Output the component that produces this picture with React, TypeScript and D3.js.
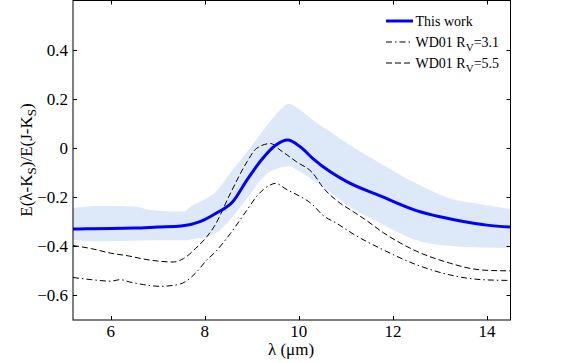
import React, { useEffect, useRef } from "react";
import * as d3 from "d3";

// wavelength grid + values
const workLam = [5.2, 5.5, 6, 6.5, 7, 7.5, 7.9, 8.25, 8.6, 8.9, 9.2, 9.5, 9.76, 10.03, 10.3, 10.67, 11.02, 11.73, 12.5, 13, 13.5, 14, 14.5];
const workVal = [-0.33, -0.329, -0.328, -0.326, -0.322, -0.318, -0.3, -0.265, -0.218, -0.13, -0.05, 0.01, 0.032, 0.005, -0.043, -0.097, -0.137, -0.195, -0.255, -0.28, -0.299, -0.314, -0.322];

const bandLam = [5.2, 5.8, 6.5, 6.84, 7.55, 7.7, 8.04, 8.25, 8.55, 8.9, 9.25, 9.6, 9.78, 10.03, 10.3, 10.67, 11.02, 11.73, 12.45, 13.2, 13.9, 14.5];
const bandUpper = [-0.244, -0.235, -0.238, -0.252, -0.259, -0.239, -0.205, -0.175, -0.1, -0.015, 0.073, 0.154, 0.18, 0.154, 0.113, 0.066, 0.019, -0.062, -0.14, -0.205, -0.23, -0.249];
const bandLower = [-0.374, -0.38, -0.378, -0.376, -0.376, -0.372, -0.36, -0.345, -0.29, -0.205, -0.117, -0.08, -0.074, -0.097, -0.13, -0.18, -0.232, -0.305, -0.372, -0.398, -0.405, -0.407];

const rv55Lam = [5.2, 5.6, 6.0, 6.4, 6.7, 7.0, 7.33, 7.55, 7.8, 8.05, 8.2, 8.55, 8.9, 9.1, 9.4, 9.6, 9.95, 10.3, 10.5, 10.88, 11.1, 11.4, 11.8, 12.5, 13.2, 13.7, 14.0, 14.5];
const rv55Val = [-0.397, -0.41, -0.428, -0.44, -0.452, -0.46, -0.464, -0.45, -0.41, -0.36, -0.32, -0.183, -0.056, -0.002, 0.018, -0.008, -0.056, -0.103, -0.157, -0.225, -0.252, -0.29, -0.345, -0.42, -0.468, -0.492, -0.498, -0.5];

const rv31Lam = [5.2, 5.6, 6.0, 6.2, 6.4, 6.7, 7.05, 7.4, 7.6, 7.8, 8.05, 8.2, 8.55, 8.9, 9.1, 9.4, 9.5, 9.75, 9.96, 10.3, 10.5, 10.8, 11.2, 11.8, 12.5, 13.2, 13.9, 14.5];
const rv31Val = [-0.527, -0.536, -0.542, -0.536, -0.545, -0.556, -0.563, -0.557, -0.543, -0.51, -0.455, -0.428, -0.347, -0.252, -0.198, -0.15, -0.144, -0.17, -0.19, -0.232, -0.272, -0.306, -0.355, -0.415, -0.475, -0.516, -0.536, -0.539];

const xTicks = [6, 8, 10, 12, 14];
const yTicks = [-0.6, -0.4, -0.2, 0, 0.2, 0.4];

export default function App() {
  const ref = useRef<SVGSVGElement | null>(null);

  useEffect(() => {
    const W = 564, H = 363;
    const left = 73, right = 510.5, top = 0.5, bottom = 320;
    const font = "Liberation Serif, Times New Roman, Times, serif";

    const svg = d3.select(ref.current);
    svg.selectAll("*").remove();
    svg.attr("width", W).attr("height", H).attr("font-family", font);

    const x = d3.scaleLinear().domain([5.2, 14.5]).range([left, right]);
    const y = d3.scaleLinear().domain([-0.7, 0.6]).range([bottom, top]);

    const clip = svg.append("clipPath").attr("id", "plotclip");
    clip.append("rect").attr("x", left).attr("y", top).attr("width", right - left).attr("height", bottom - top);
    const g = svg.append("g").attr("clip-path", "url(#plotclip)");

    // shaded uncertainty band
    const band = bandLam.map((l, i) => ({ l, hi: bandUpper[i], lo: bandLower[i] }));
    g.append("path")
      .datum(band)
      .attr("fill", "#dde9f8")
      .attr("d", d3.area<any>().x(d => x(d.l)).y0(d => y(d.lo)).y1(d => y(d.hi)).curve(d3.curveMonotoneX));

    const line = d3.line<[number, number]>().x(d => x(d[0])).y(d => y(d[1])).curve(d3.curveMonotoneX);
    const pairs = (a: number[], b: number[]) => a.map((v, i) => [v, b[i]] as [number, number]);

    g.append("path").datum(pairs(rv31Lam, rv31Val))
      .attr("fill", "none").attr("stroke", "#000").attr("stroke-width", 1)
      .attr("stroke-dasharray", "6,3,1.5,3").attr("d", line);
    g.append("path").datum(pairs(rv55Lam, rv55Val))
      .attr("fill", "none").attr("stroke", "#000").attr("stroke-width", 1)
      .attr("stroke-dasharray", "6,3").attr("d", line);
    g.append("path").datum(pairs(workLam, workVal))
      .attr("fill", "none").attr("stroke", "#0000ff").attr("stroke-width", 3).attr("d", line);

    // frame + ticks (inward, mirrored)
    const axes = svg.append("g").attr("stroke", "#000").attr("stroke-width", 1);
    axes.append("rect").attr("x", left).attr("y", top).attr("width", right - left).attr("height", bottom - top).attr("fill", "none");
    xTicks.forEach(t => {
      const px = Math.round(x(t)) + 0.5;
      axes.append("line").attr("x1", px).attr("x2", px).attr("y1", bottom).attr("y2", bottom - 4);
      axes.append("line").attr("x1", px).attr("x2", px).attr("y1", top).attr("y2", top + 4);
    });
    yTicks.forEach(t => {
      const py = Math.round(y(t)) + 0.5;
      axes.append("line").attr("x1", left).attr("x2", left + 4).attr("y1", py).attr("y2", py);
      axes.append("line").attr("x1", right).attr("x2", right - 4).attr("y1", py).attr("y2", py);
    });

    svg.selectAll("text.xt").data(xTicks).enter().append("text")
      .attr("x", d => x(d)).attr("y", 337).attr("text-anchor", "middle")
      .attr("font-size", 17).text(d => d);
    svg.selectAll("text.yt").data(yTicks).enter().append("text")
      .attr("x", 68).attr("y", d => y(d) + 6).attr("text-anchor", "end")
      .attr("font-size", 17)
      .text(d => (Math.abs(d) < 1e-9 ? "0" : d3.format(".1f")(d)));

    // axis labels
    svg.append("text").attr("x", 291).attr("y", 355).attr("text-anchor", "middle")
      .attr("font-size", 17).text("λ (μm)");

    const yl = svg.append("text").attr("transform", "translate(32,160) rotate(-90)")
      .attr("text-anchor", "middle").attr("font-size", 17);
    yl.append("tspan").text("E(λ-K");
    yl.append("tspan").attr("dy", 4).attr("font-size", 13).text("S");
    yl.append("tspan").attr("dy", -4).text(")/E(J-K");
    yl.append("tspan").attr("dy", 4).attr("font-size", 13).text("S");
    yl.append("tspan").attr("dy", -4).text(")");

    // legend
    const lg = svg.append("g");
    const rows = [
      { y: 21, stroke: "#0000ff", w: 3, dash: null, label: "This work", sub: null, tail: null },
      { y: 42, stroke: "#000", w: 1, dash: "6,3,1.5,3", label: "WD01 R", sub: "V", tail: "=3.1" },
      { y: 63, stroke: "#000", w: 1, dash: "6,3", label: "WD01 R", sub: "V", tail: "=5.5" },
    ];
    rows.forEach(r => {
      const ln = lg.append("line").attr("x1", 386).attr("x2", 413).attr("y1", r.y).attr("y2", r.y)
        .attr("stroke", r.stroke).attr("stroke-width", r.w);
      if (r.dash) ln.attr("stroke-dasharray", r.dash);
      const t = lg.append("text").attr("x", 415.5).attr("y", r.y + 5).attr("font-size", 14);
      t.append("tspan").text(r.label);
      if (r.sub) {
        t.append("tspan").attr("dy", 4).attr("font-size", 11).text(r.sub);
        t.append("tspan").attr("dy", -4).text(r.tail as string);
      }
    });
  }, []);

  return (
    <div style={{ position: "absolute", left: 0, top: 0, background: "#fff" }}>
      <svg ref={ref} style={{ display: "block" }} />
    </div>
  );
}
